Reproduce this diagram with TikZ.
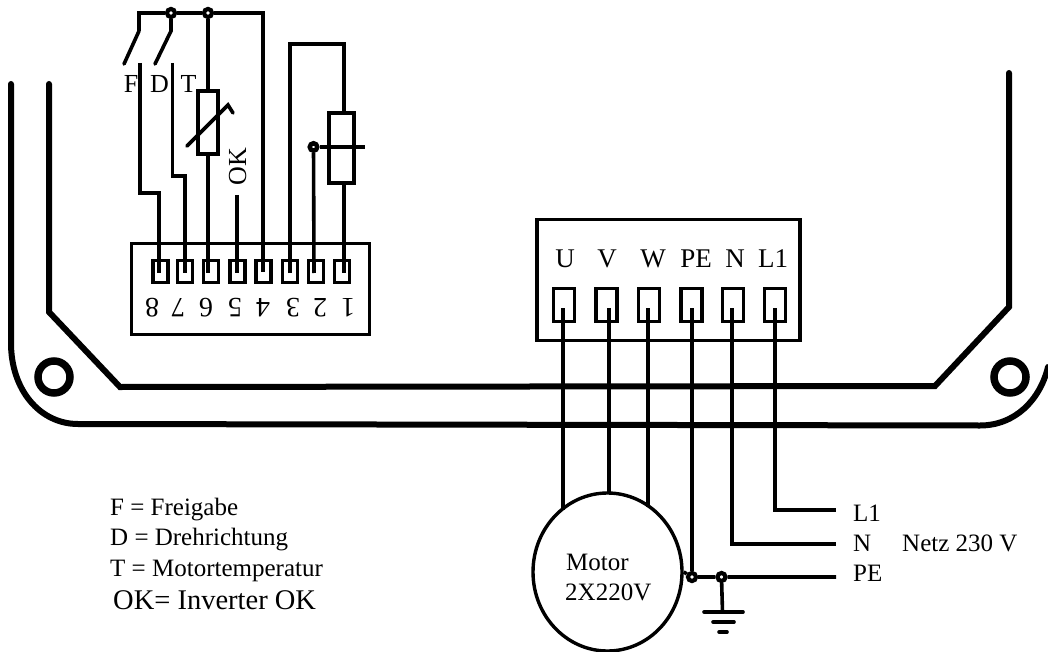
\documentclass[tikz,border=0pt]{standalone}
\usepackage{fontspec}
\setmainfont{Liberation Serif}
\usetikzlibrary{shapes.geometric}
\tikzset{
  x=1pt,y=-1pt,
  wire/.style={line width=3.6pt,line join=miter,line cap=butt},
  chassis/.style={line width=6pt,line cap=round,line join=miter},
  boxx/.style={draw,line width=3.6pt,inner sep=0pt,rectangle},
  term/.style={boxx,minimum width=15pt,minimum height=22pt},
  bigterm/.style={boxx,minimum width=21pt,minimum height=33pt},
  dotnode/.style={circle,draw,line width=4.2pt,fill=white,inner sep=0pt,minimum size=8pt},
  hole/.style={circle,draw,line width=7.5pt,inner sep=0pt,minimum size=32pt},
  lab/.style={font=\fontsize{27}{27}\selectfont,inner sep=0pt,anchor=base},
  num/.style={font=\fontsize{28}{28}\selectfont,inner sep=0pt,rotate=180},
  txt/.style={font=\fontsize{25}{25}\selectfont,inner sep=0pt,anchor=base west},
}
\begin{document}
\begin{tikzpicture}
\useasboundingbox (0,0) rectangle (1048,652);

% chassis
\coordinate (ol) at (11,84); \coordinate (or) at (1048,367);
\coordinate (il) at (49,84); \coordinate (ir) at (1009,73);
\draw[chassis] (ol) -- (11,343) .. controls (11,390) and (40,424) .. (78,424) -- (980,425.5)
   .. controls (1015,425.5) and (1040,400) .. (or);
\draw[chassis] (il) -- (49,312) -- (120,387) -- (935,386) -- (1009,307) -- (ir);
\node[hole] (hl) at (54,377) {};
\node[hole] (hr) at (1010,377) {};

% control terminal block
\node[boxx,minimum width=238pt,minimum height=91pt] (cbox) at (250.5,289) {};
\foreach \n/\x in {8/160.5,7/185,6/211,5/237.5,4/263.5,3/290,2/316,1/342}
  \node[term] (t\n) at (\x,271.5) {};
\foreach \n/\x in {8/152,7/178,6/206,5/235,4/263,3/293,2/320,1/348}
  \node[num] (d\n) at (\x,307.5) {\n};

% top rail
\coordinate (railF) at (139,13);
\coordinate (railEnd) at (263,13);
\node[dotnode] (nD) at (171,13) {};
\node[dotnode] (nT) at (208,13) {};
\draw[wire] (139,31) -- (railF) -- (nD) -- (nT) -- (railEnd) -- (railEnd |- t4.center);
% switches
\coordinate (fb) at (124,64); \coordinate (db) at (155,64);
\coordinate (fc) at (140,63); \coordinate (dc) at (172.5,63);
\draw[wire,line cap=round] (139,31) -- (fb);
\draw[wire,line cap=round] (nD) -- (171,31) -- (db);
\draw[wire] (fc) -- (140,193) -- (159,193) -- (159,273);
\draw[wire] (dc) -- (172.5,176) -- (185,176) -- (185,273);

% thermistor
\node[draw,line width=3.4pt,inner sep=0pt,minimum width=20pt,minimum height=63pt] (rt) at (208,122.5) {};
\draw[wire] (nT) -- (rt.north);
\draw[wire] (rt.south) -- (208,273);
\coordinate (sa) at (187,146); \coordinate (sb) at (228,105); \coordinate (sc) at (233,113);
\draw[wire,line cap=round] (sa) -- (sb) -- (sc);

% OK
\coordinate (okend) at (237,195);
\node[font=\fontsize{26}{26}\selectfont,inner sep=0pt,rotate=90,anchor=base] (ok) at (246,166.5) {OK};
\draw[wire] (okend) -- (237,273);

% potentiometer
\node[draw,line width=3.4pt,inner sep=0pt,minimum width=25pt,minimum height=70pt] (pot) at (341.5,148) {};
\draw[wire] (290,273) -- (290,44) -- (344,44) -- (pot.north -| 344,0);
\draw[wire] (344,183) -- (344,273);
\node[dotnode,minimum size=7.5pt,line width=4.5pt] (nS) at (313.5,147) {};
\coordinate (sr) at (365,147);
\draw[wire] (nS) -- (sr);
\draw[wire] (nS) -- (314,273);

\node[lab,font=\fontsize{26}{26}\selectfont] (lF) at (131,93) {F};
\node[lab,font=\fontsize{26}{26}\selectfont] (lD) at (159.5,93) {D};
\node[lab,font=\fontsize{26}{26}\selectfont] (lT) at (188.5,93) {T};

% power terminal block
\node[boxx,minimum width=263pt,minimum height=121pt] (pbox) at (668.5,280) {};
\foreach \n/\x in {U/564,V/606.5,W/649,PE/691.5,N/733,L/775}
  \node[bigterm] (p\n) at (\x,305) {};
\node[lab] (lU) at (565,267) {U};
\node[lab] (lV) at (607,267) {V};
\node[lab] (lW) at (653,267) {W};
\node[lab] (lPE) at (696,267) {PE};
\node[lab] (lN) at (735,267) {N};
\node[lab] (lL) at (773,267) {L1};

% motor
\node[ellipse,draw,line width=3.4pt,inner sep=0pt,minimum width=149pt,minimum height=158pt] (motor) at (607.5,572) {};
\node[txt] (mt1) at (566,570) {Motor};
\node[txt] (mt2) at (565,600) {2X220V};
\draw[wire] (563,308) -- (563,510);
\draw[wire] (609,308) -- (609,493);
\draw[wire] (648,308) -- (648,507);

\node[dotnode] (nP) at (692,577) {};
\node[dotnode] (nG) at (721.5,577) {};
\coordinate (peEnd) at (836,577);
\coordinate (lEnd) at (836,510);
\coordinate (nEnd) at (836,544);
\draw[wire] (motor.east) -- (nP) -- (nG) -- (peEnd);
\draw[wire] (692,308) -- (nP);
\draw[wire] (732,308) -- (732,544) -- (nEnd);
\draw[wire] (775,308) -- (775,510) -- (lEnd);

% ground
\coordinate (g1) at (722.5,612);
\draw[wire] (nG) -- (g1);
\draw[wire,line cap=round] (704,612) -- (743,612);
\draw[wire,line cap=round] (713,622) -- (734,622);
\draw[wire,line cap=round] (719,632) -- (727,632);

% right labels
\node[txt] (r1) at (853,521) {L1};
\node[txt] (r2) at (853,551) {N};
\node[txt] (r3) at (853,581) {PE};
\node[txt] (r4) at (902,551) {Netz 230 V};

% legend
\node[txt] (f1) at (110,515) {F = Freigabe};
\node[txt] (f2) at (110,545) {D = Drehrichtung};
\node[txt] (f3) at (110,576) {T = Motortemperatur};
\node[txt,font=\fontsize{28.5}{29}\selectfont] (f4) at (113,609) {OK= Inverter OK};
\end{tikzpicture}
\end{document}
